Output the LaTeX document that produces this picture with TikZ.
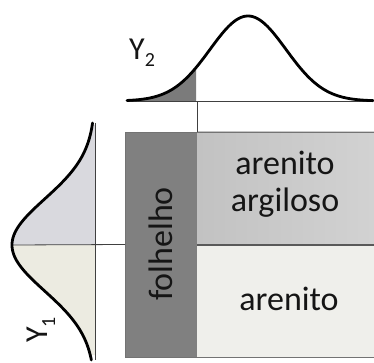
\documentclass[tikz,border=0pt]{standalone}
\usepackage{fontspec}
\setmainfont{Carlito}
\definecolor{shale}{HTML}{808080}
\definecolor{argA}{HTML}{C2C2C2}
\definecolor{argB}{HTML}{D2D2D2}
\definecolor{sand}{HTML}{EFEFEB}
\definecolor{lgtop}{HTML}{D9D9DE}
\definecolor{lgbot}{HTML}{ECEBE1}
\definecolor{tailfill}{HTML}{7B7B7B}
\definecolor{ink}{HTML}{151515}
\begin{document}
\begin{tikzpicture}[x=1pt,y=-1pt,
  curve/.style={line width=2.8pt, black, line cap=round},
  axis/.style={line width=0.8pt, black!75},
  boxline/.style={line width=0.8pt, black!55},
  midline/.style={line width=1.3pt, black!65},
  lbl/.style={font=\fontsize{34}{37}\selectfont, text=ink, inner sep=0pt, align=center},
  sym/.style={font=\fontsize{32}{32}\selectfont, text=ink, inner sep=0pt, anchor=base west},
  layer/.style={draw=none, inner sep=0pt, outer sep=0pt}]
\useasboundingbox (0,0) rectangle (374,363);

% layers of the section
\node[layer, fill=shale, minimum width=72pt, minimum height=225pt] (fol) at (161,244.5) {};
\node[layer, left color=argA, right color=argB, minimum width=177pt, minimum height=113pt] (arg) at (285.5,188.5) {};
\node[layer, fill=sand, minimum width=177pt, minimum height=112pt] (are) at (285.5,301) {};
\draw[boxline] (arg.north east) -- (fol.north west) -- (fol.south west) -- (are.south east);
\draw[midline] (arg.south west) -- (arg.south east);

\node[lbl, rotate=90] (foltext) at (160.5,244) {folhelho};
\node[lbl] (argtext) at (285,184) {arenito\\argiloso};
\node[lbl] (aretext) at (289,299) {arenito};

% top distribution Y2
\coordinate (t0) at (127,101);
\coordinate (t1) at (373,101);
\fill[tailfill] (140,101) -- plot[domain=140:196, samples=40] (\x,{101-85*exp(-((\x-248)/38)^2/2)}) -- (196,101) -- cycle;
\draw[axis] (t0) -- (t1);
\draw[axis] (fol.north east) -- (fol.north east |- t0);
\draw[curve] plot[domain=127:373, samples=120, smooth] (\x,{101-85*exp(-((\x-248)/38)^2/2)});
\node[sym] (y2) at (129,60) {Y\raisebox{-7pt}{\fontsize{20}{20}\selectfont 2}};

% left distribution Y1
\coordinate (l0) at (95,123);
\coordinate (l1) at (95,360);
\coordinate (lp) at (12,245);
\fill[lgtop] (95,125) -- plot[domain=125:245, samples=60] ({95-83*exp(-((\x-245)/46)^2/2)},\x) -- (95,245) -- cycle;
\fill[lgbot] (95,245) -- plot[domain=245:355, samples=60] ({95-83*exp(-((\x-245)/46)^2/2)},\x) -- (95,355) -- cycle;
\draw[axis] (l0) -- (l1);
\draw[axis] (lp) -- (fol.west);
\draw[curve] plot[domain=123:360, samples=120, smooth] ({95-83*exp(-((\x-245)/46)^2/2)},\x);
\node[sym, rotate=90] (y1) at (47,343) {Y\raisebox{-8pt}{\fontsize{20}{20}\selectfont 1}};
\end{tikzpicture}
\end{document}
